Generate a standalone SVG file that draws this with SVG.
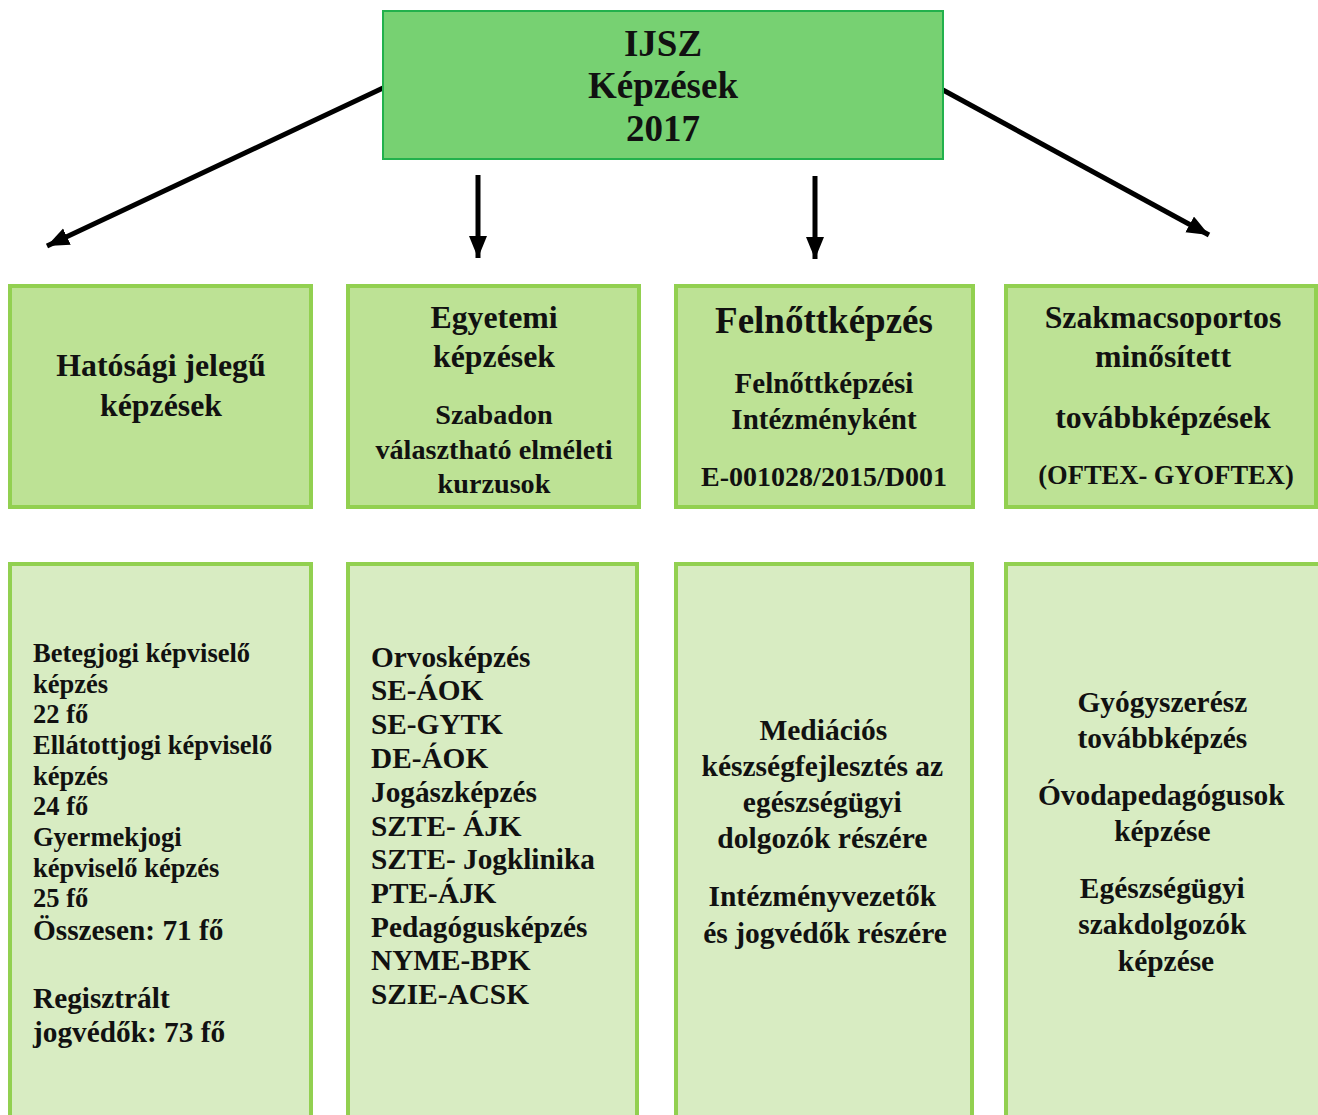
<svg xmlns="http://www.w3.org/2000/svg" width="1318" height="1115" viewBox="0 0 1318 1115">
<style>
text{font-family:"Liberation Serif","Times New Roman",serif;font-weight:bold;fill:#111;}
.c{text-anchor:middle;}
.mid{fill:#BDE295;stroke:#92D050;stroke-width:4;}
.low{fill:#D8ECC2;stroke:#92D050;stroke-width:4;}
.conn{stroke:#000;stroke-width:5;fill:none;marker-end:url(#ah);}
</style>
<defs>
<marker id="ah" markerUnits="userSpaceOnUse" markerWidth="24" markerHeight="20" refX="22" refY="9" orient="auto">
<path d="M0,0 L22,9 L0,18 z" fill="#000"/>
</marker>
</defs>
<rect width="1318" height="1115" fill="#fff"/>
<g id="connectors">
<line class="conn" x1="383" y1="88" x2="47" y2="246"/>
<line class="conn" x1="478" y1="175" x2="478" y2="258"/>
<line class="conn" x1="815" y1="176" x2="815" y2="259"/>
<line class="conn" x1="943" y1="90" x2="1209" y2="235"/>
</g>
<g id="root">
<rect x="383" y="11" width="560" height="148" fill="#77D172" stroke="#22B14C" stroke-width="2"/>
<text class="c" x="663" y="56" font-size="37">IJSZ</text>
<text class="c" x="663" y="98" font-size="37">Képzések</text>
<text class="c" x="663" y="141" font-size="37">2017</text>
</g>
<g id="hatosagi">
<rect class="mid" x="10" y="286" width="301" height="221"/>
<text class="c" x="161" y="376" font-size="31.8">Hatósági jelegű</text>
<text class="c" x="161" y="416" font-size="31.8">képzések</text>
</g>
<g id="egyetemi">
<rect class="mid" x="348" y="286" width="291" height="221"/>
<text class="c" x="494" y="328" font-size="31.8">Egyetemi</text>
<text class="c" x="494" y="367" font-size="31.8">képzések</text>
<text class="c" x="494" y="424" font-size="28.2">Szabadon</text>
<text class="c" x="494" y="459" font-size="28.2">választható elméleti</text>
<text class="c" x="494" y="493" font-size="28.2">kurzusok</text>
</g>
<g id="felnott">
<rect class="mid" x="676" y="286" width="297" height="221"/>
<text class="c" x="824" y="333" font-size="37">Felnőttképzés</text>
<text class="c" x="824" y="393" font-size="29">Felnőttképzési</text>
<text class="c" x="824" y="429" font-size="29">Intézményként</text>
<text class="c" x="824" y="486" font-size="28">E-001028/2015/D001</text>
</g>
<g id="szakmacsoportos">
<rect class="mid" x="1006" y="286" width="310" height="221"/>
<text class="c" x="1163" y="328" font-size="31.8">Szakmacsoportos</text>
<text class="c" x="1163" y="367" font-size="31.8">minősített</text>
<text class="c" x="1163" y="428" font-size="31.8">továbbképzések</text>
<text class="c" x="1166" y="484" font-size="26.5">(OFTEX- GYOFTEX)</text>
</g>
<g id="hatosagi-list">
<rect class="low" x="10" y="564" width="301" height="560"/>
<text x="33" font-size="26.5">
<tspan x="33" y="662">Betegjogi képviselő</tspan>
<tspan x="33" y="693">képzés</tspan>
<tspan x="33" y="723">22 fő</tspan>
<tspan x="33" y="754">Ellátottjogi képviselő</tspan>
<tspan x="33" y="785">képzés</tspan>
<tspan x="33" y="815">24 fő</tspan>
<tspan x="33" y="846">Gyermekjogi</tspan>
<tspan x="33" y="877">képviselő képzés</tspan>
<tspan x="33" y="907">25 fő</tspan>
</text>
<text x="33" font-size="29.3">
<tspan x="33" y="940">Összesen: 71 fő</tspan>
<tspan x="33" y="1008">Regisztrált</tspan>
<tspan x="33" y="1042">jogvédők: 73 fő</tspan>
</text>
</g>
<g id="egyetemi-list">
<rect class="low" x="348" y="564" width="289" height="560"/>
<text x="371" font-size="29.3">
<tspan x="371" y="667">Orvosképzés</tspan>
<tspan x="371" y="700">SE-ÁOK</tspan>
<tspan x="371" y="734">SE-GYTK</tspan>
<tspan x="371" y="768">DE-ÁOK</tspan>
<tspan x="371" y="802">Jogászképzés</tspan>
<tspan x="371" y="836">SZTE- ÁJK</tspan>
<tspan x="371" y="869">SZTE- Jogklinika</tspan>
<tspan x="371" y="903">PTE-ÁJK</tspan>
<tspan x="371" y="937">Pedagógusképzés</tspan>
<tspan x="371" y="970">NYME-BPK</tspan>
<tspan x="371" y="1004">SZIE-ACSK</tspan>
</text>
</g>
<g id="felnott-list">
<rect class="low" x="676" y="564" width="296" height="560"/>
<text class="c" font-size="29.5">
<tspan x="827" y="740">Mediációs</tspan>
<tspan x="826" y="776">készségfejlesztés az</tspan>
<tspan x="826" y="812">egészségügyi</tspan>
<tspan x="826" y="848">dolgozók részére</tspan>
<tspan x="826" y="906">Intézményvezetők</tspan>
<tspan x="825" y="943">és jogvédők részére</tspan>
</text>
</g>
<g id="szakmacsoportos-list">
<rect class="low" x="1006" y="564" width="320" height="560"/>
<text class="c" font-size="29.4">
<tspan x="1166" y="712">Gyógyszerész</tspan>
<tspan x="1166" y="748">továbbképzés</tspan>
<tspan x="1165" y="805">Óvodapedagógusok</tspan>
<tspan x="1166" y="841">képzése</tspan>
<tspan x="1166" y="898">Egészségügyi</tspan>
<tspan x="1166" y="934">szakdolgozók</tspan>
<tspan x="1166" y="971">képzése</tspan>
</text>
</g>
</svg>
